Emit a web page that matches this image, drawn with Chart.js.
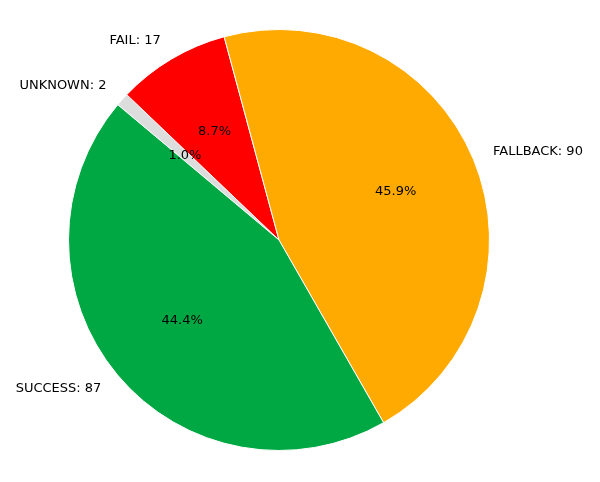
<!DOCTYPE html>
<html><head><style>body{margin:0;background:#fff}</style>
<script src="https://cdn.jsdelivr.net/npm/chart.js@4"></script></head>
<body><canvas id="c" width="600" height="482"></canvas>
<script>
const categories = ["UNKNOWN", "FAIL", "FALLBACK", "SUCCESS"];
const values = [2, 17, 90, 87];
const colors = ["#dddddd", "#ff0000", "#ffaa00", "#00a844"];

const labelPlugin = {
  id: "pieLabels",
  afterDatasetsDraw(chart) {
    const ctx = chart.ctx;
    const meta = chart.getDatasetMeta(0);
    const total = values.reduce((a, b) => a + b, 0);
    ctx.save();
    ctx.font = "13px 'DejaVu Sans'";
    ctx.fillStyle = "#000";
    ctx.textBaseline = "middle";
    meta.data.forEach((arc, i) => {
      const p = arc.getProps(["x", "y", "startAngle", "endAngle", "outerRadius"], true);
      const mid = (p.startAngle + p.endAngle) / 2;
      const cx = Math.cos(mid), cy = Math.sin(mid);
      ctx.textAlign = cx >= 0 ? "left" : "right";
      ctx.fillText(categories[i] + ": " + values[i], p.x + cx * p.outerRadius * 1.1, p.y + cy * p.outerRadius * 1.1);
      ctx.textAlign = "center";
      ctx.fillText((values[i] / total * 100).toFixed(1) + "%", p.x + cx * p.outerRadius * 0.6, p.y + cy * p.outerRadius * 0.6);
    });
    ctx.restore();
  }
};

new Chart(document.getElementById("c"), {
  type: "pie",
  data: { labels: categories, datasets: [{ data: values, backgroundColor: colors, borderColor: "#ffffff", borderWidth: 1 }] },
  options: {
    responsive: false, animation: false, rotation: -50,
    layout: { padding: { top: 29, bottom: 31, left: 68, right: 110 } },
    plugins: { legend: { display: false }, tooltip: { enabled: false } }
  },
  plugins: [labelPlugin]
});
</script></body></html>
